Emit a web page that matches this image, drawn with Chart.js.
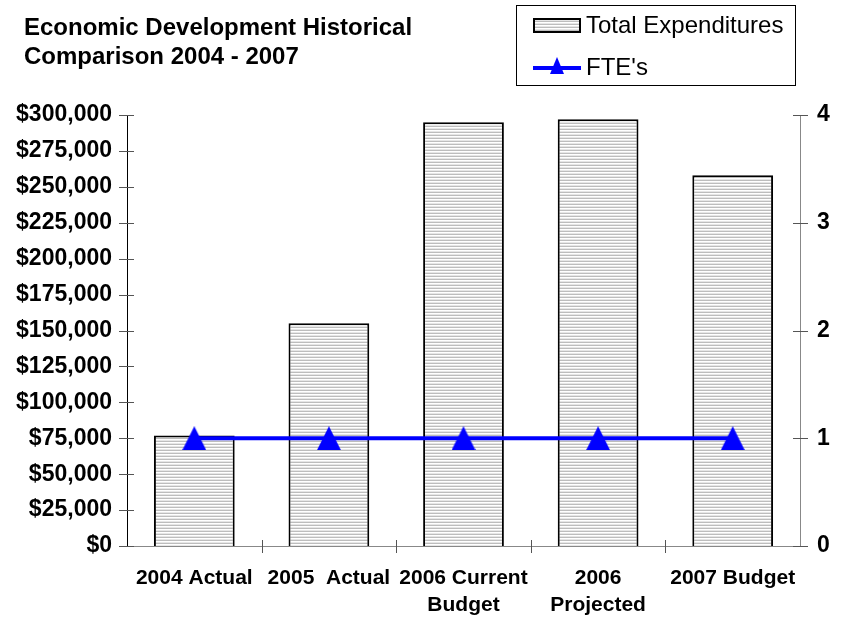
<!DOCTYPE html>
<html>
<head>
<meta charset="utf-8">
<script src="https://cdn.jsdelivr.net/npm/chart.js@4/dist/chart.umd.min.js"></script>
<style>
  html, body { margin: 0; padding: 0; background: #fff; }
  #wrap { width: 845px; height: 620px; position: relative; }
</style>
</head>
<body>
<div id="wrap"><canvas id="chart" width="845" height="620"></canvas></div>
<script>
// data
const categories = ["2004 Actual", "2005  Actual", ["2006 Current", "Budget"], ["2006", "Projected"], "2007 Budget"];
const expenditures = [77000, 155000, 295000, 297000, 258000];
const ftes = [1, 1, 1, 1, 1];
const titleLines = ["Economic Development Historical", "Comparison 2004 - 2007"];

// striped fill like the original bars
function makePattern() {
  const c = document.createElement("canvas");
  c.width = 4; c.height = 3;
  const g = c.getContext("2d");
  g.fillStyle = "#ffffff"; g.fillRect(0, 0, 4, 3);
  g.fillStyle = "#bdbdbd"; g.fillRect(0, 0, 4, 1);
  g.fillStyle = "#e6e6e6"; g.fillRect(0, 2, 4, 1);
  return g.createPattern(c, "repeat");
}
const stripes = makePattern();

// triangle marker centred on its box
function makeTriangle(w, h) {
  const c = document.createElement("canvas");
  c.width = w; c.height = h;
  const g = c.getContext("2d");
  g.fillStyle = "#0000ff";
  g.beginPath();
  g.moveTo(w / 2, 0); g.lineTo(w, h); g.lineTo(0, h);
  g.closePath(); g.fill();
  return c;
}
const triangle = makeTriangle(24, 24);

const font = "Arial, 'Liberation Sans', sans-serif";

// tick marks that cross the axis lines
const crossTicks = {
  id: "crossTicks",
  afterDraw(chart) {
    const ctx = chart.ctx;
    const { y, y2, x } = chart.scales;
    ctx.save();
    ctx.lineWidth = 1;
    ctx.strokeStyle = "#555";
    y.ticks.forEach((t, i) => {
      const py = Math.round(y.getPixelForTick(i)) + 0.5;
      ctx.beginPath(); ctx.moveTo(y.right - 8, py); ctx.lineTo(y.right + 7, py); ctx.stroke();
    });
    y2.ticks.forEach((t, i) => {
      const py = Math.round(y2.getPixelForTick(i)) + 0.5;
      ctx.beginPath(); ctx.moveTo(y2.left - 7, py); ctx.lineTo(y2.left + 8, py); ctx.stroke();
    });
    for (let i = 1; i < x.ticks.length; i++) {
      const px = Math.round((x.getPixelForTick(i - 1) + x.getPixelForTick(i)) / 2) + 0.5;
      ctx.beginPath(); ctx.moveTo(px, x.top - 6); ctx.lineTo(px, x.top + 7); ctx.stroke();
    }
    ctx.restore();
  }
};

// title + boxed legend drawn on the canvas
const extras = {
  id: "extras",
  afterDraw(chart) {
    const ctx = chart.ctx;
    ctx.save();
    ctx.fillStyle = "#000";
    ctx.font = "bold 24px " + font;
    ctx.textBaseline = "middle";
    ctx.fillText(titleLines[0], 24, 28);
    ctx.fillText(titleLines[1], 24, 57);

    // legend box
    ctx.strokeStyle = "#000";
    ctx.lineWidth = 1;
    ctx.strokeRect(516.5, 5.5, 279, 80);

    ctx.fillStyle = stripes;
    ctx.fillRect(534, 19, 46, 13);
    ctx.lineWidth = 2;
    ctx.strokeRect(534, 19, 46, 13);

    ctx.strokeStyle = "#0000ff";
    ctx.lineWidth = 4;
    ctx.beginPath();
    ctx.moveTo(533, 68); ctx.lineTo(581, 68);
    ctx.stroke();
    ctx.fillStyle = "#0000ff";
    ctx.beginPath();
    ctx.moveTo(557, 57); ctx.lineTo(564, 74); ctx.lineTo(550, 74);
    ctx.closePath(); ctx.fill();

    ctx.fillStyle = "#000";
    ctx.font = "24px " + font;
    ctx.fillText("Total Expenditures", 586, 26);
    ctx.fillText("FTE's", 586, 68);
    ctx.restore();
  }
};

new Chart(document.getElementById("chart"), {
  data: {
    labels: categories,
    datasets: [
      {
        type: "line",
        label: "FTE's",
        data: ftes,
        yAxisID: "y2",
        borderColor: "#0000ff",
        backgroundColor: "#0000ff",
        borderWidth: 4,
        pointStyle: triangle,
        pointRadius: 12,
        pointHoverRadius: 12,
        fill: false,
        order: 0
      },
      {
        type: "bar",
        label: "Total Expenditures",
        data: expenditures,
        yAxisID: "y",
        backgroundColor: stripes,
        borderColor: "#000",
        borderWidth: 2,
        categoryPercentage: 1,
        barPercentage: 0.6,
        order: 1
      }
    ]
  },
  options: {
    responsive: false,
    animation: false,
    layout: { padding: { top: 115, left: 0, right: 0, bottom: 0 } },
    plugins: {
      legend: { display: false },
      tooltip: { enabled: false }
    },
    scales: {
      x: {
        grid: { display: false },
        border: { color: "#888" },
        ticks: {
          color: "#000",
          font: { family: font, size: 21, weight: "bold", lineHeight: 1.29 },
          maxRotation: 0, autoSkip: false, padding: 11
        },
        afterFit(s) { s.height = 74; }
      },
      y: {
        position: "left",
        min: 0, max: 300000,
        grid: { display: false },
        border: { color: "#000" },
        ticks: {
          stepSize: 25000,
          color: "#000",
          font: { family: font, size: 23, weight: "bold" },
          padding: 7,
          callback: v => "$" + v.toLocaleString("en-US")
        },
        afterFit(s) { s.width = 127; }
      },
      y2: {
        position: "right",
        min: 0, max: 4,
        grid: { display: false },
        border: { color: "#888" },
        ticks: { stepSize: 1, color: "#000", font: { family: font, size: 23, weight: "bold" }, padding: 9 },
        afterFit(s) { s.width = 45; }
      }
    }
  },
  plugins: [crossTicks, extras]
});
</script>
</body>
</html>
